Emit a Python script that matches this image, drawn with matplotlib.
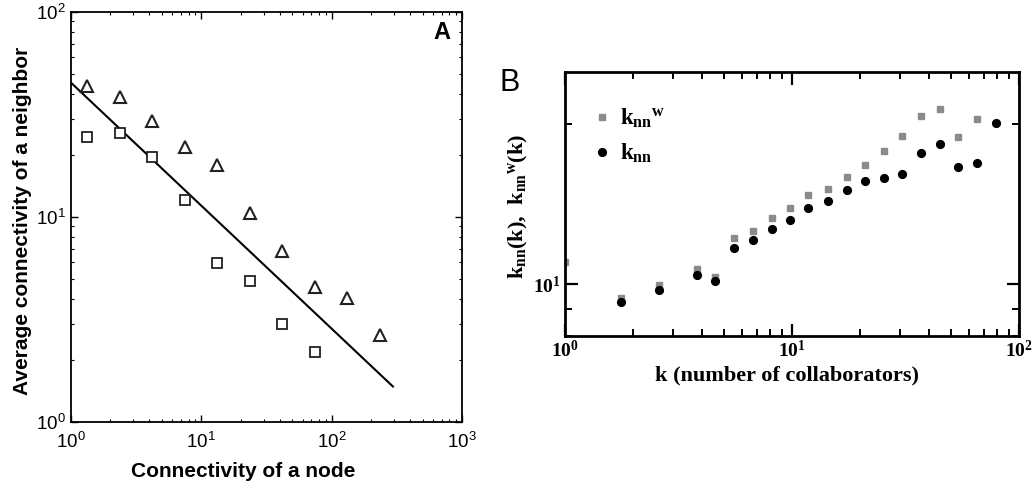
import numpy as np
import matplotlib
matplotlib.use("Agg")
import matplotlib.pyplot as plt
from matplotlib.ticker import FixedLocator, FixedFormatter, LogLocator, NullFormatter

# ---------------- Panel A data ----------------
a_k_tri = [1.33, 2.37, 4.2, 7.5, 13.3, 23.7, 41.9, 74.5, 132, 236]
a_knn_tri = [43.6, 38.6, 29.5, 21.9, 17.9, 10.5, 6.86, 4.54, 4.04, 2.65]
a_k_sq = [1.33, 2.37, 4.2, 7.5, 13.3, 23.7, 41.9, 74.5]
a_knn_sq = [24.5, 25.8, 19.6, 12.1, 5.94, 4.89, 3.01, 2.20]
fit_amplitude = 45.2
fit_exponent = -0.6
fit_k_range = [1.0, 295.0]

# ---------------- Panel B data ----------------
b_k_w = [1.0, 1.77, 2.59, 3.80, 4.58, 5.56, 6.73, 8.13, 9.82, 11.8, 14.4,
         17.4, 21.0, 25.4, 30.6, 37.1, 44.8, 54.1, 65.5]
b_knn_w = [11.0, 9.43, 9.96, 10.7, 10.3, 12.2, 12.6, 13.3, 13.9, 14.7, 15.1,
           15.9, 16.7, 17.8, 19.0, 20.7, 21.3, 18.9, 20.4]
b_k = [1.77, 2.59, 3.80, 4.58, 5.56, 6.73, 8.13, 9.82, 11.8, 14.4,
       17.4, 21.0, 25.4, 30.6, 37.1, 44.8, 54.1, 65.5, 79.1]
b_knn = [9.27, 9.77, 10.4, 10.15, 11.7, 12.1, 12.7, 13.2, 13.9, 14.3,
         15.0, 15.6, 15.8, 16.1, 17.6, 18.3, 16.6, 16.9, 20.1]

W, H = 1036, 486
fig = plt.figure(figsize=(W / 100, H / 100), dpi=100)

SANS = "Liberation Sans"
SERIF = "Liberation Serif"


def decade_labels(exps):
    return [r"$\mathregular{10^{%d}}$" % e for e in exps]


# ---------------- Panel A ----------------
axA = fig.add_axes([71 / W, 1 - 422 / H, 391 / W, 410 / H])
axA.set_xscale("log")
axA.set_yscale("log")
axA.set_xlim(1, 1000)
axA.set_ylim(1, 100)

fit_k = np.array(fit_k_range)
axA.plot(fit_k, fit_amplitude * fit_k ** fit_exponent, color="black", lw=1.5)
axA.plot(a_k_tri, a_knn_tri, linestyle="none", marker="^", ms=9,
         mfc="white", mec="#222222", mew=1.5)
axA.plot(a_k_sq, a_knn_sq, linestyle="none", marker="s", ms=6.8,
         mfc="white", mec="#222222", mew=1.3)

for sp in axA.spines.values():
    sp.set_linewidth(1.3)
axA.xaxis.set_major_locator(FixedLocator([1, 10, 100, 1000]))
axA.xaxis.set_major_formatter(FixedFormatter(decade_labels([0, 1, 2, 3])))
axA.yaxis.set_major_locator(FixedLocator([1, 10, 100]))
axA.yaxis.set_major_formatter(FixedFormatter(decade_labels([0, 1, 2])))
axA.xaxis.set_minor_locator(LogLocator(base=10, subs=np.arange(2, 10), numticks=20))
axA.yaxis.set_minor_locator(LogLocator(base=10, subs=np.arange(2, 10), numticks=20))
axA.xaxis.set_minor_formatter(NullFormatter())
axA.yaxis.set_minor_formatter(NullFormatter())
axA.tick_params(which="both", direction="in", top=True, right=True,
                labelsize=13.5, labelfontfamily=SANS)
axA.tick_params(which="major", length=5, width=1.0)
axA.tick_params(which="minor", length=2.5, width=0.8)
axA.tick_params(axis="x", pad=7)
axA.tick_params(axis="y", pad=4)
axA.set_xlabel("Connectivity of a node", fontfamily=SANS, fontweight="bold",
               fontsize=15)
axA.set_ylabel("Average connectivity of a neighbor", fontfamily=SANS,
               fontweight="bold", fontsize=15)
axA.xaxis.set_label_coords(0.441, -0.097)
axA.yaxis.set_label_coords(-0.1, 0.49)
axA.text(0.97, 0.978, "A", transform=axA.transAxes, ha="right", va="top",
         fontfamily=SANS, fontweight="bold", fontsize=17)

# ---------------- Panel B ----------------
axB = fig.add_axes([565 / W, 1 - 336 / H, 454 / W, 264 / H])
axB.set_xscale("log")
axB.set_yscale("log")
axB.set_xlim(1, 100)
axB.set_ylim(8, 25)

gray = "#8a8a8a"
axB.plot(b_k_w, b_knn_w, linestyle="none", marker="s", ms=5,
         mfc=gray, mec=gray, label=r"$\mathregular{k_{nn}{}^{w}}$")
axB.plot(b_k, b_knn, linestyle="none", marker="o", ms=5.6,
         mfc="black", mec="black", label=r"$\mathregular{k_{nn}}$")

for sp in axB.spines.values():
    sp.set_linewidth(2.0)
axB.xaxis.set_major_locator(FixedLocator([1, 10, 100]))
axB.xaxis.set_major_formatter(FixedFormatter(decade_labels([0, 1, 2])))
axB.xaxis.set_minor_locator(LogLocator(base=10, subs=np.arange(2, 10), numticks=20))
axB.xaxis.set_minor_formatter(NullFormatter())
axB.yaxis.set_major_locator(FixedLocator([10]))
axB.yaxis.set_major_formatter(FixedFormatter(decade_labels([1])))
axB.yaxis.set_minor_locator(FixedLocator([8, 9, 20]))
axB.yaxis.set_minor_formatter(NullFormatter())
axB.tick_params(which="both", direction="in", top=True, right=True,
                labelsize=14, labelfontfamily=SERIF)
axB.tick_params(which="major", length=9, width=1.6)
axB.tick_params(which="minor", length=5, width=1.4)
axB.tick_params(axis="x", pad=3)
axB.tick_params(axis="y", pad=3)
for lab in axB.get_xticklabels() + axB.get_yticklabels():
    lab.set_fontweight("bold")
axB.set_xlabel("k (number of collaborators)", fontfamily=SERIF,
               fontweight="bold", fontsize=16)
axB.set_ylabel(r"$\mathregular{k_{nn}(k),\ k_{nn}{}^{w}(k)}$", fontfamily=SERIF,
               fontweight="bold", fontsize=16)
axB.xaxis.set_label_coords(0.49, -0.11)
axB.yaxis.set_label_coords(-0.077, 0.49)

axB.legend(loc="center left", bbox_to_anchor=(0.066, 0.757), frameon=False,
           prop={"family": SERIF, "weight": "bold", "size": 16.5},
           handlelength=0.6, handletextpad=0.5, labelspacing=0.5,
           borderpad=0, borderaxespad=0, numpoints=1)

fig.text(500 / W, 1 - 83 / H, "B", fontfamily=SANS, fontsize=22,
         ha="left", va="center")

fig.savefig("out.png", dpi=100)
